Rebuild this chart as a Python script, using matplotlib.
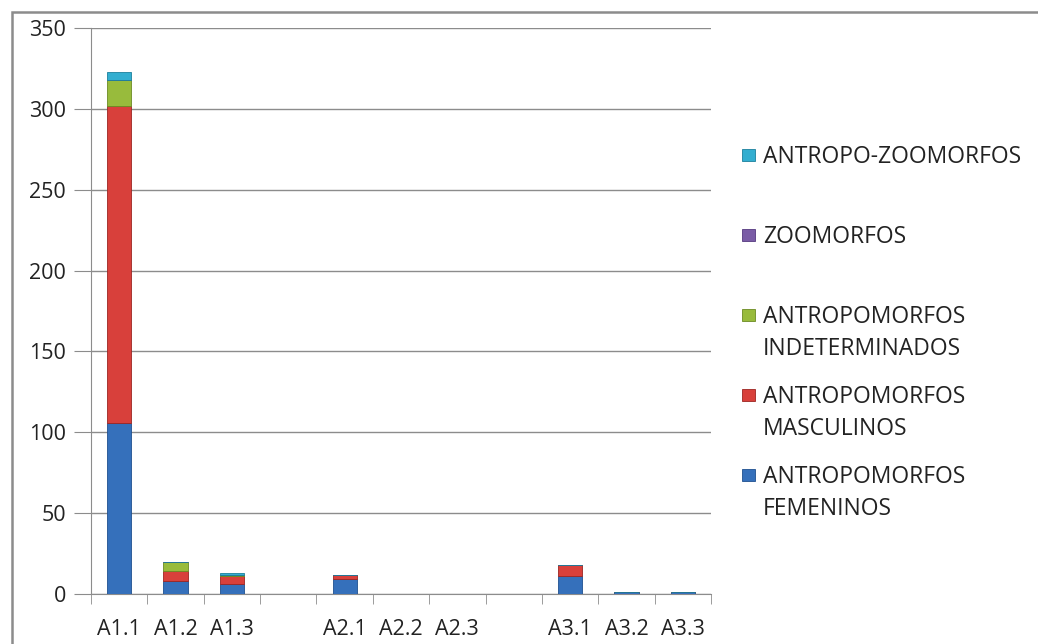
import matplotlib
matplotlib.use("Agg")
import matplotlib.pyplot as plt
from matplotlib.patches import Rectangle
import numpy as np

plt.rcParams['font.family'] = ['Open Sans', 'DejaVu Sans']

categories = ["A1.1", "A1.2", "A1.3", "", "A2.1", "A2.2", "A2.3", "", "A3.1", "A3.2", "A3.3"]
femeninos = [106, 8, 6, 0, 9, 0, 0, 0, 11, 1, 1]
masculinos = [196, 6, 5, 0, 3, 0, 0, 0, 7, 0, 0]
indeterminados = [16, 6, 1, 0, 0, 0, 0, 0, 0, 0, 0]
zoomorfos = [0, 0, 0, 0, 0, 0, 0, 0, 0, 0, 0]
antropo_zoo = [5, 0, 1, 0, 0, 0, 0, 0, 0, 0, 0]

series = [
    ("ANTROPOMORFOS\nFEMENINOS", femeninos, "#3570bb", "#1f4f8f"),
    ("ANTROPOMORFOS\nMASCULINOS", masculinos, "#d8403b", "#9c2522"),
    ("ANTROPOMORFOS\nINDETERMINADOS", indeterminados, "#98bb3c", "#6b8a22"),
    ("ZOOMORFOS", zoomorfos, "#7a5ca6", "#55397f"),
    ("ANTROPO-ZOOMORFOS", antropo_zoo, "#33aed0", "#1b7f9c"),
]

W, H = 1038, 644
fig = plt.figure(figsize=(W / 100, H / 100), dpi=100)
ax = fig.add_axes([91 / W, (H - 594) / H, 620 / W, 566 / H])

x = np.arange(len(categories))
bottom = np.zeros(len(categories))
for label, vals, col, edge in series:
    v = np.array(vals, dtype=float)
    ax.bar(x, v, width=0.43, bottom=bottom, color=col, edgecolor=edge,
           linewidth=0.6, zorder=3)
    bottom += v

ax.set_xlim(-0.5, len(categories) - 0.5)
ax.set_ylim(0, 350)
ax.set_yticks(np.arange(0, 351, 50))
ax.yaxis.grid(True, color="#8c8c8c", linewidth=1.0, zorder=0)
ax.set_axisbelow(True)

ax.set_xticks(x)
ax.set_xticklabels(categories, fontsize=15.5, color="#222222")
ax.set_xticks(np.arange(-0.5, len(categories), 1), minor=True)
ax.tick_params(axis="x", which="major", length=0, pad=18)
ax.tick_params(axis="x", which="minor", length=7, color="#8c8c8c", direction="out")
ax.tick_params(axis="y", length=12, color="#8c8c8c", labelsize=15.5,
               labelcolor="#222222", pad=6)

for s in ["top", "right"]:
    ax.spines[s].set_visible(False)
ax.spines["left"].set_color("#8c8c8c")
ax.spines["bottom"].set_color("#8c8c8c")

# Chart border
fig.patches.append(Rectangle((12 / W, -0.05), 1.1, (H - 12) / H + 0.05,
                             transform=fig.transFigure, fill=False,
                             edgecolor="#8c8c8c", linewidth=1.8))

# Legend (manual, reversed order)
legend_y = [155, 235, 315, 395, 475]
for (label, vals, col, edge), yy in zip(reversed(series), legend_y):
    fig.patches.append(Rectangle((742 / W, (H - yy - 6) / H), 13 / W, 12 / H,
                                 transform=fig.transFigure, facecolor=col,
                                 edgecolor=edge, linewidth=0.6))
    for i, line in enumerate(label.split("\n")):
        fig.text(763 / W, (H - (yy + 8 + 32 * i)) / H, line, fontsize=16.5,
                 color="#222222", va="baseline", ha="left")

fig.savefig("out.png", dpi=100)
